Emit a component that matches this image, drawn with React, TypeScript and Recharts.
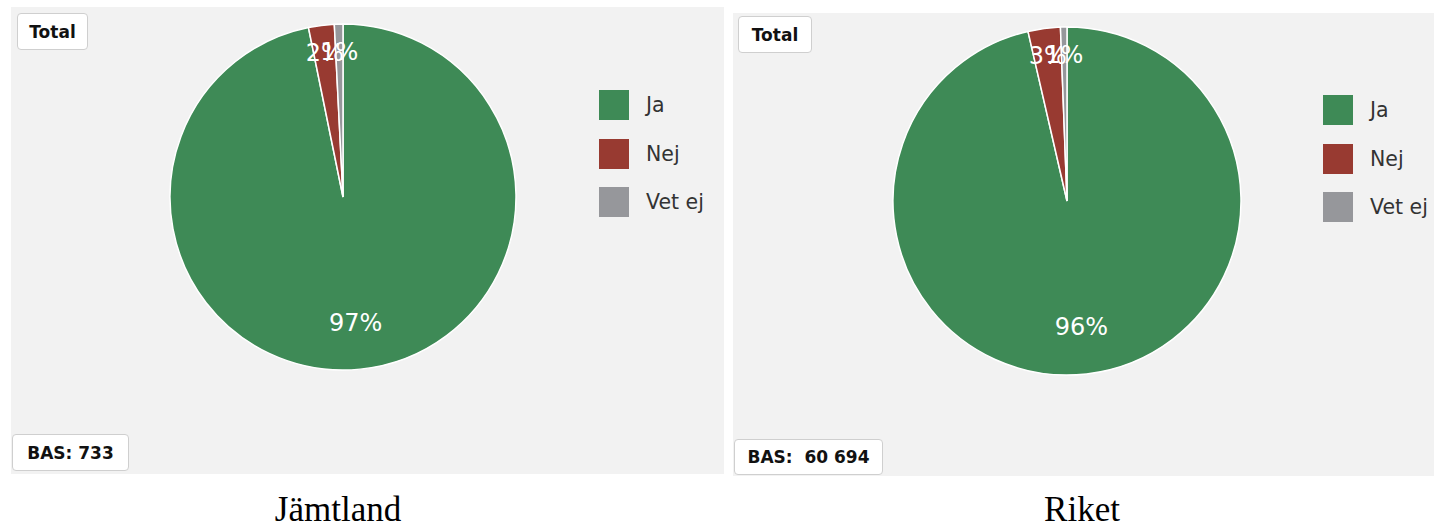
import React from 'react';
import { PieChart, Pie, Cell, Legend } from 'recharts';

const categories = ['Ja', 'Nej', 'Vet ej'];
const jamtlandValues = [96.8, 2.4, 0.8];
const riketValues = [96.4, 3.0, 0.6];
const colors = ['#3e8a56', '#983a31', '#96979b'];
const captions = ['Jämtland', 'Riket'];
const basLabels = ['BAS: 733', 'BAS:  60 694'];

const RAD = Math.PI / 180;
const sans = "'DejaVu Sans', Verdana, sans-serif";

const renderLabel = (props: any) => {
  const { cx, cy, midAngle, outerRadius, percent } = props;
  const r = outerRadius * (percent < 0.1 ? 0.84 : 0.73);
  const x = cx + r * Math.cos(-midAngle * RAD);
  const y = cy + r * Math.sin(-midAngle * RAD);
  return (
    <text x={x} y={y} fill="#ffffff" textAnchor="middle" dominantBaseline="central" fontSize={24} fontFamily={sans}>
      {Math.round(percent * 100) + '%'}
    </text>
  );
};

const LegendContent = (props: any) => {
  const { payload } = props;
  return (
    <div>
      {(payload || []).map((p: any, i: number) => (
        <div key={i} style={{ display: 'flex', alignItems: 'center', height: 30, marginBottom: 18.5 }}>
          <div style={{ width: 30, height: 30, background: p.color }} />
          <span style={{ marginLeft: 17, fontFamily: sans, fontSize: 20.5, color: '#333' }}>{p.value}</span>
        </div>
      ))}
    </div>
  );
};

const boxStyle: React.CSSProperties = {
  position: 'absolute',
  background: '#ffffff',
  border: '1px solid #cfcfcf',
  borderRadius: 4,
  fontFamily: sans,
  fontWeight: 'bold',
  fontSize: 17,
  color: '#111',
  boxSizing: 'border-box',
  display: 'flex',
  alignItems: 'center',
  justifyContent: 'center',
  whiteSpace: 'pre',
};

type PanelProps = {
  values: number[];
  left: number;
  top: number;
  width: number;
  height: number;
  cx: number;
  cy: number;
  r: number;
  legendLeft: number;
  legendTop: number;
  totalBox: { l: number; t: number; w: number; h: number };
  basBox: { l: number; t: number; w: number; h: number };
  bas: string;
};

const Panel = (p: PanelProps) => {
  const data = categories.map((c, i) => ({ name: c, value: p.values[i] }));
  return (
    <div style={{ position: 'absolute', left: p.left, top: p.top, width: p.width, height: p.height, background: '#f2f2f2' }}>
      <PieChart width={p.width} height={p.height} margin={{ top: 0, right: 0, bottom: 0, left: 0 }}>
        <Pie
          data={data}
          dataKey="value"
          nameKey="name"
          cx={p.cx}
          cy={p.cy}
          outerRadius={p.r}
          startAngle={90}
          endAngle={-270}
          stroke="#ffffff"
          strokeWidth={1.5}
          label={renderLabel}
          labelLine={false}
          isAnimationActive={false}
        >
          {data.map((d, i) => (
            <Cell key={d.name} fill={colors[i]} />
          ))}
        </Pie>
        <Legend
          layout="vertical"
          content={<LegendContent />}
          wrapperStyle={{ left: p.legendLeft, top: p.legendTop, width: 140 }}
        />
      </PieChart>
      <div style={{ ...boxStyle, left: p.totalBox.l, top: p.totalBox.t, width: p.totalBox.w, height: p.totalBox.h }}>Total</div>
      <div style={{ ...boxStyle, left: p.basBox.l, top: p.basBox.t, width: p.basBox.w, height: p.basBox.h }}>{p.bas}</div>
    </div>
  );
};

const captionStyle: React.CSSProperties = {
  position: 'absolute',
  top: 492,
  fontFamily: "'Liberation Serif', 'Times New Roman', serif",
  fontSize: 35,
  lineHeight: '35px',
  color: '#000',
  textAlign: 'center',
  width: 300,
};

export default function App() {
  return (
    <div style={{ position: 'absolute', left: 0, top: 0, width: 1434, height: 528, background: '#ffffff', overflow: 'hidden' }}>
      <Panel
        values={jamtlandValues}
        left={11}
        top={7}
        width={713}
        height={467}
        cx={332}
        cy={190}
        r={173}
        legendLeft={588}
        legendTop={83}
        totalBox={{ l: 6, t: 6, w: 71, h: 37 }}
        basBox={{ l: 1, t: 427, w: 117, h: 37 }}
        bas={basLabels[0]}
      />
      <Panel
        values={riketValues}
        left={733}
        top={13}
        width={701}
        height={463}
        cx={334}
        cy={188}
        r={174}
        legendLeft={590}
        legendTop={82}
        totalBox={{ l: 5, t: 3, w: 74, h: 37 }}
        basBox={{ l: 1, t: 426, w: 149, h: 36 }}
        bas={basLabels[1]}
      />
      <div style={{ ...captionStyle, left: 338 - 150 }}>{captions[0]}</div>
      <div style={{ ...captionStyle, left: 1082 - 150 }}>{captions[1]}</div>
    </div>
  );
}
